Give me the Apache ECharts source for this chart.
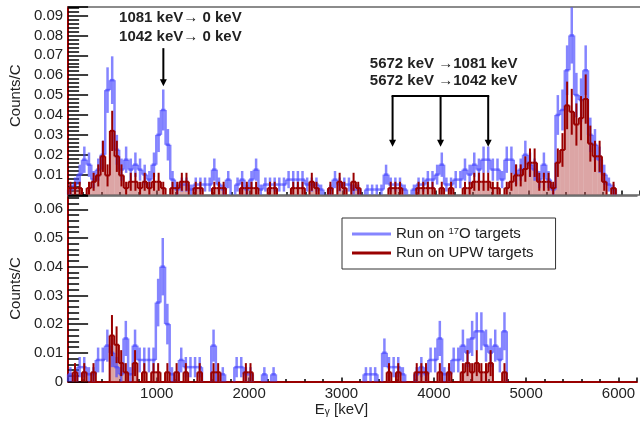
<!DOCTYPE html>
<html><head><meta charset="utf-8">
<script src="https://cdn.jsdelivr.net/npm/echarts@6/dist/echarts.min.js"></script>
<style>html,body{margin:0;padding:0;background:#fff}#c{width:640px;height:424px}</style>
</head><body><div id="c"></div>
<script>
// ---- histogram binning (keV) ----
const BIN_START = 40, BIN_WIDTH = 50;
// counts/C per single count (sets Poisson error bar size)
const O17_UNIT = 0.0025, UPW_UNIT = 0.0032;

// ---- top panel ----
const topO17 = [
0.0025,0.005,0.01,0.0175,0.015,0.0075,0.0125,0.02,0.0525,0.0575,
0.0225,0.0125,0.0175,0.0125,0.015,0.0125,0.01,0.0075,0.015,0.03,
0.0425,0.025,0.0075,0.0025,0.005,0.005,0.0025,0.005,0.005,0.005,
0.005,0.0125,0.005,0.0025,0.0075,0,0.005,0.0075,0.0025,0.0075,
0.0125,0.0025,0.005,0.005,0.005,0.005,0.005,0.0075,0.0075,0.0075,
0.0075,0.005,0.005,0.005,0.0025,0,0.0025,0.0075,0.005,0.005,
0.005,0.0025,0.0025,0,0.0025,0.0025,0.0025,0.0025,0.01,0.005,
0.005,0.005,0.0025,0,0.0025,0.005,0.005,0.0075,0.0075,0.01,
0.015,0.005,0.005,0.0075,0.0075,0.0125,0.01,0.015,0.0125,0.0175,
0.0175,0.0125,0.0125,0.0075,0.0175,0.0175,0.01,0.0125,0.02,0.015,
0.0125,0.0075,0.015,0.0075,0.0025,0.04,0.0425,0.0625,0.08,0.05,
0.0475,0.0625,0.03,0.025,0.0175,0.01,0.005,0.0025,0,0,
0,0,0];
const topUPW = [
0.0032,0.0032,0.0032,0,0.0032,0.0064,0.0096,0.0192,0.0096,0.032,
0.0192,0.0096,0.0032,0.0064,0.0064,0.0032,0.0064,0.0032,0.0064,0.0064,
0.0032,0,0.0032,0.0032,0.0064,0.0064,0,0.0032,0.0032,0,
0,0.0032,0.0032,0.0032,0,0,0,0.0032,0.0032,0.0032,
0.0032,0,0,0.0032,0.0032,0,0,0,0.0032,0.0032,
0.0032,0,0.0064,0.0032,0,0,0.0032,0,0.0064,0.0032,
0,0.0064,0.0032,0,0,0,0,0,0,0.0032,
0.0032,0.0032,0,0,0,0.0032,0.0032,0.0032,0.0032,0,
0.0032,0,0.0032,0,0,0.0032,0.0032,0.0064,0.0064,0.0064,
0.0064,0.0032,0.0032,0,0.0032,0.0064,0.0096,0.0096,0.0128,0.016,
0.016,0.0064,0.0064,0.0064,0.0032,0.016,0.0224,0.0448,0.0416,0.0352,
0.0384,0.048,0.0256,0.0192,0.0192,0.0064,0,0.0032,0,0,
0,0,0];

// ---- bottom panel ----
const botO17 = [
0.0025,0,0.005,0.005,0.0025,0.0025,0.0075,0.0075,0.0125,0.01,
0.005,0.0025,0.015,0.0025,0.0125,0.0075,0.0075,0.0075,0.0075,0.0275,
0.04,0.02,0.0025,0,0.0075,0.005,0.005,0.005,0.005,0,
0,0.0125,0,0.0025,0,0,0.005,0.005,0.0025,0.0025,
0,0,0.0025,0,0.0025,0,0,0,0,0,
0,0,0,0,0,0,0,0,0,0,
0,0,0,0,0.0025,0.0025,0.0025,0,0.01,0.005,
0.005,0.005,0.0025,0,0,0.0025,0.005,0.0025,0.0075,0.0075,
0.015,0.0025,0.0025,0.0075,0.0075,0.0125,0.01,0.015,0.0175,0.0175,
0.0125,0.01,0.0125,0.0075,0.0175,0,0,0,0,0,
0,0,0,0,0,0,0,0,0,0,
0,0,0,0,0,0,0,0,0,0,
0,0,0];
const botUPW = [
0,0.0032,0,0.0032,0,0.0032,0,0,0,0.016,
0.0128,0.0064,0.0032,0,0.0064,0,0.0032,0,0.0032,0.0032,
0,0.0032,0,0.0032,0,0.0032,0,0,0.0032,0,
0,0.0032,0.0032,0,0,0,0,0,0.0032,0.0032,
0,0,0,0,0,0,0,0,0,0,
0,0,0,0,0,0,0,0,0,0,
0,0,0,0,0,0,0,0,0,0.0032,
0,0.0032,0,0,0,0.0032,0.0032,0.0032,0,0,
0.0032,0,0.0032,0,0,0.0032,0.0064,0.0032,0.0064,0.0032,
0.0032,0.0064,0,0,0.0032,0,0,0,0,0,
0,0,0,0,0,0,0,0,0,0,
0,0,0,0,0,0,0,0,0,0,
0,0,0];

const legendNames = ['Run on 17O targets', 'Run on UPW targets'];
// annotation texts: [label, energy(keV), Counts/C] anchors in top panel
const annotTexts = [
  ['1081 keV\u2192 0 keV', 589, 0.0887],
  ['1042 keV\u2192 0 keV', 589, 0.0794],
  ['5672 keV \u21921081 keV', 3290, 0.0658],
  ['5672 keV \u21921042 keV', 3290, 0.0573]
];
const singleArrow = {energy: 1066, from: 0.0736, to: 0.0545};
const bracketArrows = [3535, 4052, 4565];
const bracketLevel = 0.0495, bracketTip = 0.0240;

const FONT = '"Liberation Sans", Arial, Helvetica, sans-serif';
const BLUE = 'rgba(70,70,255,0.66)';
const RED = '#990000';
const PINK = 'rgba(185,75,75,0.5)';

function items(vals, unit) {
  return vals.map((v, i) => {
    const l = BIN_START + i * BIN_WIDTH;
    const prev = i > 0 ? vals[i - 1] : 0;
    return [l, l + BIN_WIDTH, v, prev, Math.sqrt(v * unit)];
  });
}
function histRender(color, width) {
  return function (params, api) {
    const l = api.value(0), r = api.value(1), v = api.value(2), pv = api.value(3), e = api.value(4);
    const cs = params.coordSys;
    const cy = y => Math.max(cs.y, Math.min(cs.y + cs.height, y));
    const pl = api.coord([l, v]), pr = api.coord([r, v]), pp = api.coord([l, pv]);
    const style = {stroke: color, lineWidth: width, fill: null};
    const ch = [];
    if (v !== pv) ch.push({type: 'line', shape: {x1: pl[0], y1: cy(pp[1]), x2: pl[0], y2: cy(pl[1])}, style});
    if (v > 0) {
      ch.push({type: 'line', shape: {x1: pl[0], y1: cy(pl[1]), x2: pr[0], y2: cy(pr[1])}, style});
      const c = (l + r) / 2;
      const lo = api.coord([c, Math.max(0, v - e)]), hi = api.coord([c, v + e]);
      ch.push({type: 'line', shape: {x1: lo[0], y1: cy(lo[1]), x2: hi[0], y2: cy(hi[1])}, style});
    }
    return {type: 'group', children: ch};
  };
}
function fillRender(color) {
  return function (params, api) {
    const l = api.value(0), r = api.value(1), v = api.value(2);
    if (!(v > 0)) return {type: 'group', children: []};
    const a = api.coord([l, 0]), b = api.coord([r, v]);
    return {type: 'rect', shape: {x: a[0], y: b[1], width: b[0] - a[0], height: a[1] - b[1]}, style: {fill: color}};
  };
}
function annotRender(params, api) {
  const ch = [];
  const tFont = 'bold 15px ' + FONT;
  function arrow(p0, p1) {
    const x = p0[0];
    ch.push({type: 'line', shape: {x1: x, y1: p0[1], x2: x, y2: p1[1] - 5}, style: {stroke: '#000', lineWidth: 2}});
    ch.push({type: 'polygon', shape: {points: [[x - 3.5, p1[1] - 7], [x + 3.5, p1[1] - 7], [x, p1[1]]]}, style: {fill: '#000'}});
  }
  arrow(api.coord([singleArrow.energy, singleArrow.from]), api.coord([singleArrow.energy, singleArrow.to]));
  const bL = api.coord([bracketArrows[0], bracketLevel]), bR = api.coord([bracketArrows[2], bracketLevel]);
  ch.push({type: 'line', shape: {x1: bL[0] - 1, y1: bL[1], x2: bR[0] + 1, y2: bR[1]}, style: {stroke: '#000', lineWidth: 2}});
  bracketArrows.forEach(e => arrow(api.coord([e, bracketLevel]), api.coord([e, bracketTip])));
  annotTexts.forEach(t => {
    const p = api.coord([t[1], t[2]]);
    ch.push({type: 'text', x: p[0], y: p[1], style: {text: t[0], font: tFont, fill: '#222', verticalAlign: 'middle', align: 'left'}});
  });
  return {type: 'group', children: ch};
}
function yFmt(hideZero) {
  return v => {
    const k = Math.round(v * 100);
    if (Math.abs(v * 100 - k) > 1e-6) return '';
    if (k === 0) return hideZero ? '' : '0';
    return (k / 100).toFixed(2);
  };
}
const xFmt = v => (v > 0 && Math.abs(v % 1000) < 1e-6) ? String(v) : '';

function xAxisCfg(grid, lineColor, lineWidth, labels) {
  return {
    type: 'value', gridIndex: grid, min: 40, max: 6200, splitNumber: 6,
    axisLine: {show: true, onZero: false, lineStyle: {color: lineColor, width: lineWidth}},
    axisTick: {show: true, inside: true, length: 4, lineStyle: {color: '#000', width: 1.5}},
    minorTick: {show: true, splitNumber: 5, length: 2.5, lineStyle: {color: '#000', width: 1.5}},
    splitLine: {show: false},
    axisLabel: {show: labels, formatter: xFmt, fontSize: 15, color: '#222', fontFamily: FONT, margin: 5}
  };
}
function topLine(grid) {
  return {type: 'value', gridIndex: grid, position: 'top', min: 40, max: 6200,
    axisLine: {show: true, onZero: false, lineStyle: {color: '#666', width: 1.5}},
    axisTick: {show: false}, axisLabel: {show: false}, splitLine: {show: false}};
}
function yAxisCfg(grid, max, hideZero, namePad) {
  return {
    type: 'value', gridIndex: grid, min: 0, max: max, interval: 0.01,
    name: 'Counts/C', nameLocation: 'middle', nameGap: 39, nameRotate: 90,
    nameTextStyle: {fontSize: 15, color: '#222', fontFamily: FONT, padding: namePad},
    axisLine: {show: true, onZero: false, lineStyle: {color: RED, width: 2}},
    axisTick: {show: true, inside: true, length: 20, lineStyle: {color: '#000', width: 1.5}},
    minorTick: {show: true, splitNumber: 5, length: 11, lineStyle: {color: '#000', width: 1.5}},
    splitLine: {show: false},
    axisLabel: {formatter: yFmt(hideZero), fontSize: 15, color: '#222', fontFamily: FONT, margin: 5}
  };
}

const xb = xAxisCfg(1, RED, 2, true);
xb.name = 'E{s|\u03b3} [keV]';
xb.nameLocation = 'middle';
xb.nameGap = 21;
xb.nameTextStyle = {fontSize: 15, color: '#222', fontFamily: FONT, padding: [0, 22, 0, 0],
  rich: {s: {fontSize: 10, fontFamily: FONT, color: '#222', padding: [5, 0, 0, 0]}}};

const chart = echarts.init(document.getElementById('c'), null, {renderer: 'canvas'});
chart.setOption({
  animation: false,
  backgroundColor: '#fff',
  grid: [
    {left: 67, right: 0, top: 7, height: 187.5},
    {left: 67, right: 0, top: 195.5, height: 186}
  ],
  xAxis: [xAxisCfg(0, '#666', 1.5, false), topLine(0), xb, topLine(1)],
  yAxis: [yAxisCfg(0, 0.0943, true, [0, 0, 0, 10]), yAxisCfg(1, 0.0648, false, [0, 0, 0, 0])],
  legend: {
    orient: 'vertical', left: 342, top: 218, padding: [8, 22, 8, 10], itemGap: 3,
    itemWidth: 39, itemHeight: 3, icon: 'rect',
    borderColor: '#333', borderWidth: 1, backgroundColor: '#fff', borderRadius: 0,
    data: legendNames,
    formatter: n => n === legendNames[0] ? 'Run on {sup|17}O targets' : n,
    textStyle: {fontSize: 15, color: '#222', fontFamily: FONT, lineHeight: 16,
      rich: {sup: {fontSize: 9.5, fontFamily: FONT, color: '#222', verticalAlign: 'top', lineHeight: 16}}}
  },
  series: [
    {type: 'custom', name: 'fillTop', xAxisIndex: 0, yAxisIndex: 0, z: 1, silent: true,
      renderItem: fillRender(PINK), data: items(topUPW, UPW_UNIT)},
    {type: 'custom', name: 'fillBot', xAxisIndex: 2, yAxisIndex: 1, z: 1, silent: true,
      renderItem: fillRender(PINK), data: items(botUPW, UPW_UNIT)},
    {type: 'custom', name: legendNames[0], xAxisIndex: 0, yAxisIndex: 0, z: 2, silent: true,
      itemStyle: {color: BLUE}, renderItem: histRender(BLUE, 2.5), data: items(topO17, O17_UNIT)},
    {type: 'custom', name: legendNames[0], xAxisIndex: 2, yAxisIndex: 1, z: 2, silent: true,
      itemStyle: {color: BLUE}, renderItem: histRender(BLUE, 2.5), data: items(botO17, O17_UNIT)},
    {type: 'custom', name: legendNames[1], xAxisIndex: 0, yAxisIndex: 0, z: 3, silent: true,
      itemStyle: {color: RED}, renderItem: histRender(RED, 2), data: items(topUPW, UPW_UNIT)},
    {type: 'custom', name: legendNames[1], xAxisIndex: 2, yAxisIndex: 1, z: 3, silent: true,
      itemStyle: {color: RED}, renderItem: histRender(RED, 2), data: items(botUPW, UPW_UNIT)},
    {type: 'custom', name: 'annotations', xAxisIndex: 0, yAxisIndex: 0, z: 10, silent: true,
      renderItem: annotRender, data: [[0, 0]]}
  ]
});
</script>
</body></html>
